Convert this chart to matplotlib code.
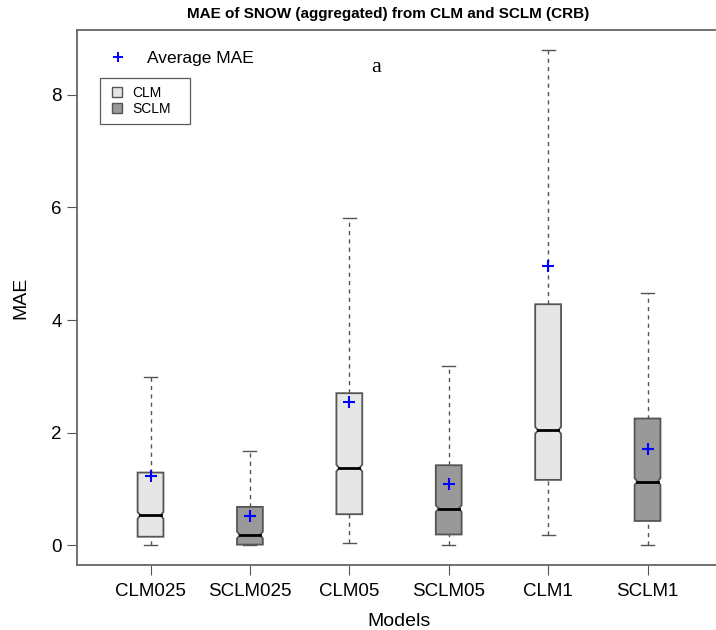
import matplotlib.pyplot as plt
from matplotlib.lines import Line2D
from matplotlib.patches import Polygon

plt.rcParams['font.family'] = ['Liberation Sans', 'DejaVu Sans']

models = ["CLM025", "SCLM025", "CLM05", "SCLM05", "CLM1", "SCLM1"]
groups = ["CLM", "SCLM", "CLM", "SCLM", "CLM", "SCLM"]
whisk_lo = [0.00, 0.00, 0.04, 0.00, 0.18, 0.00]
q1 = [0.15, 0.01, 0.55, 0.19, 1.16, 0.43]
median = [0.53, 0.18, 1.37, 0.65, 2.04, 1.13]
q3 = [1.29, 0.68, 2.70, 1.42, 4.28, 2.25]
whisk_hi = [2.98, 1.68, 5.82, 3.19, 8.80, 4.48]
mean_mae = [1.22, 0.52, 2.54, 1.09, 4.96, 1.71]

fills = {"CLM": "#e6e6e6", "SCLM": "#999999"}
edge = "#555555"

fig = plt.figure(figsize=(7.16, 6.30), dpi=100)
ax = fig.add_axes([0.1075, 0.1032, 0.8996, 0.8492])

half = 0.13
notch_h = 0.06
for i, name in enumerate(models):
    x = i + 1
    # whiskers and caps
    ax.plot([x, x], [q3[i], whisk_hi[i]], color=edge, ls=(0, (3, 3)), lw=1, zorder=1)
    ax.plot([x, x], [whisk_lo[i], q1[i]], color=edge, ls=(0, (3, 3)), lw=1, zorder=1)
    ax.plot([x - half / 2, x + half / 2], [whisk_hi[i]] * 2, color=edge, lw=1, zorder=1)
    ax.plot([x - half / 2, x + half / 2], [whisk_lo[i]] * 2, color=edge, lw=1, zorder=1)
    # notched box
    lo = max(q1[i], median[i] - notch_h)
    hi = min(q3[i], median[i] + notch_h)
    inner = half * 0.78
    pts = [(x - half, q1[i]), (x + half, q1[i]), (x + half, lo), (x + inner, median[i]),
           (x + half, hi), (x + half, q3[i]), (x - half, q3[i]), (x - half, hi),
           (x - inner, median[i]), (x - half, lo)]
    ax.add_patch(Polygon(pts, closed=True, facecolor=fills[groups[i]], edgecolor=edge,
                         lw=1.3, zorder=2))
    ax.plot([x - inner, x + inner], [median[i]] * 2, color="black", lw=2, zorder=3)

ax.plot(range(1, len(models) + 1), mean_mae, ls="none", marker="+", color="blue",
        ms=9, mew=1.5, zorder=4)

ax.set_xlim(0.26, 6.74)
ax.set_ylim(-0.352, 9.152)
ax.set_xticks(range(1, len(models) + 1))
ax.set_xticklabels(models, fontsize=13.5)
ax.set_yticks([0, 2, 4, 6, 8])
ax.tick_params(axis="y", labelsize=13.5, length=7, color=edge, pad=4)
ax.tick_params(axis="x", length=7, color=edge, pad=6)
for s in ax.spines.values():
    s.set_color("#666666")
    s.set_linewidth(1.3)

fig.text(388 / 716, 1 - 14 / 630, "MAE of SNOW (aggregated) from CLM and SCLM (CRB)",
         fontsize=11, fontweight="bold", ha="center", va="center")
ax.set_xlabel("Models", fontsize=14, labelpad=9)
ax.set_ylabel("MAE", fontsize=14, labelpad=16)

ax.text(0.465, 0.93, "a", transform=ax.transAxes, fontsize=16,
        family="Liberation Serif", ha="center", va="center")

h_mean = [Line2D([], [], ls="none", marker="+", color="blue", ms=7, mew=1.4)]
leg1 = ax.legend(h_mean, ["Average MAE"], loc="upper left", bbox_to_anchor=(0.02, 0.99),
                 frameon=False, fontsize=12.5, handletextpad=0.9, handlelength=1.5)
ax.add_artist(leg1)
h_box = [Line2D([], [], ls="none", marker="s", ms=7.5, mfc=fills[g], mec=edge) for g in ["CLM", "SCLM"]]
leg2 = ax.legend(h_box, ["CLM", "SCLM"], loc="upper left",
                 bbox_to_anchor=(0.0357, 0.8, 0.1398, 0.1103), mode="expand",
                 frameon=True, fancybox=False, edgecolor="#333333", fontsize=10,
                 handletextpad=0.5, handlelength=1.2, labelspacing=0.1,
                 borderpad=0.6, borderaxespad=0)
leg2.get_frame().set_linewidth(0.9)

fig.savefig("out.png", dpi=100)
